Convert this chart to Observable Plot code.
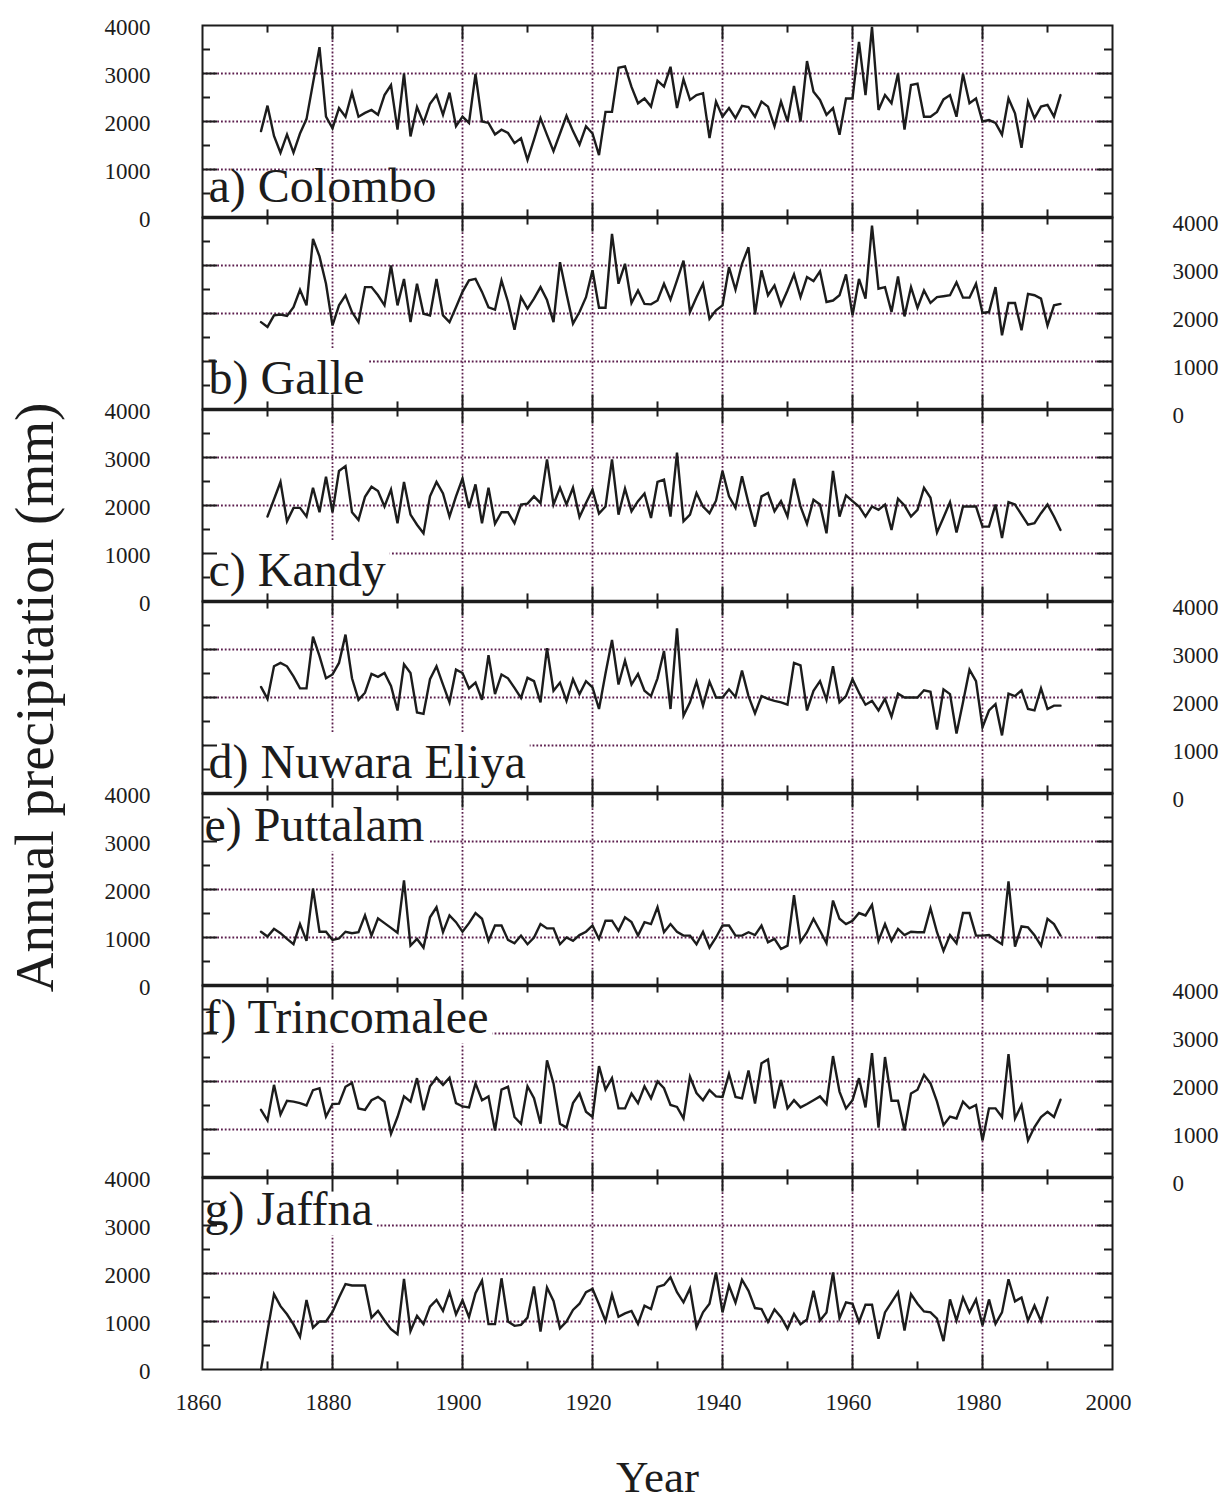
<!DOCTYPE html>
<html>
<head>
<meta charset="utf-8">
<script src="https://cdn.jsdelivr.net/npm/d3@7"></script>
<script src="https://cdn.jsdelivr.net/npm/@observablehq/plot@0.6"></script>
<style>
  html, body { margin: 0; padding: 0; background: #ffffff; }
  #chart svg { display: block; }
</style>
</head>
<body>
<div id="chart"></div>
<script>
// Annual precipitation (mm) at seven Sri Lankan stations, one panel per station.
const stations = ["a) Colombo", "b) Galle", "c) Kandy", "d) Nuwara Eliya", "e) Puttalam", "f) Trincomalee", "g) Jaffna"];
const startYears = [1869, 1869, 1870, 1869, 1869, 1869, 1869];

const colombo = [1800,
  2330, 1700, 1350, 1730, 1350, 1750, 2050, 2800, 3550, 2100,
  1860, 2280, 2100, 2600, 2100, 2180, 2240, 2140, 2550, 2760,
  1830, 3000, 1690, 2300, 1970, 2370, 2550, 2140, 2600, 1900,
  2100, 1970, 2990, 2000, 1970, 1730, 1830, 1760, 1550, 1650,
  1200, 1620, 2070, 1720, 1380, 1750, 2120, 1800, 1520, 1900,
  1750, 1300, 2200, 2200, 3120, 3150, 2720, 2380, 2480, 2310,
  2850, 2725, 3140, 2280, 2880, 2450, 2550, 2590, 1655, 2415,
  2100, 2280, 2070, 2325, 2300, 2100, 2415, 2310, 1900, 2415,
  2000, 2740, 2000, 3260, 2620, 2450, 2140, 2280, 1725, 2480,
  2480, 3660, 2550, 3970, 2240, 2550, 2380, 3000, 1830, 2760,
  2790, 2100, 2100, 2200, 2460, 2550, 2100, 2990, 2380, 2480,
  2000, 2030, 1970, 1725, 2480, 2170, 1450, 2415, 2070, 2310,
  2345, 2100, 2550];

const galle = [1820,
  1720, 1960, 1980, 1950, 2130, 2495, 2170, 3555, 3190, 2620,
  1750, 2170, 2380, 2030, 1820, 2550, 2550, 2380, 2170, 3000,
  2170, 2720, 1820, 2620, 1995, 1960, 2720, 1960, 1820, 2130,
  2450, 2690, 2720, 2450, 2130, 2080, 2690, 2240, 1660, 2340,
  2100, 2310, 2550, 2280, 1820, 3070, 2410, 1790, 2030, 2340,
  2900, 2120, 2120, 3660, 2620, 3035, 2220, 2480, 2200, 2190,
  2270, 2620, 2290, 2690, 3100, 2030, 2340, 2620, 1890, 2065,
  2170, 2965, 2495, 3035, 3380, 1980, 2900, 2380, 2585, 2170,
  2480, 2815, 2340, 2760, 2675, 2880, 2240, 2270, 2380, 2815,
  1960, 2720, 2310, 3830, 2515, 2550, 2030, 2770, 1940, 2550,
  2120, 2480, 2220, 2340, 2360, 2380, 2650, 2330, 2330, 2620,
  2010, 2030, 2550, 1545, 2220, 2220, 1650, 2410, 2380, 2310,
  1750, 2170, 2200];

const kandy = [
  1770, 2130, 2490, 1670, 1950, 1950, 1770, 2370, 1860, 2600,
  1860, 2720, 2820, 1860, 1700, 2180, 2390, 2300, 1980, 2330,
  1630, 2490, 1810, 1600, 1420, 2190, 2490, 2250, 1770, 2190,
  2560, 1950, 2440, 1630, 2370, 1620, 1860, 1860, 1630, 2020,
  2040, 2190, 2050, 2960, 2020, 2370, 2020, 2370, 1760, 2050,
  2330, 1830, 1980, 2960, 1810, 2350, 1880, 2090, 2250, 1740,
  2490, 2540, 1770, 3100, 1670, 1810, 2260, 1980, 1840, 2100,
  2720, 2190, 1950, 2610, 2050, 1560, 2190, 2260, 1880, 2090,
  1770, 2560, 1980, 1620, 2120, 2020, 1420, 2720, 1770, 2210,
  2090, 1980, 1770, 1980, 1910, 2020, 1490, 2140, 2000, 1770,
  1910, 2370, 2160, 1440, 1750, 2070, 1440, 1980, 1980, 1980,
  1560, 1560, 2020, 1320, 2070, 2020, 1810, 1600, 1630, 1840,
  2020, 1770, 1490];

const nuwaraEliya = [2220,
  1970, 2650, 2720, 2650, 2440, 2190, 2190, 3270, 2860, 2400,
  2480, 2720, 3310, 2400, 1950, 2100, 2490, 2430, 2510, 2240,
  1730, 2690, 2510, 1690, 1660, 2380, 2650, 2270, 1900, 2580,
  2510, 2190, 2310, 1950, 2880, 2070, 2480, 2400, 2200, 1990,
  2410, 2340, 1900, 3030, 2140, 2310, 1930, 2380, 2070, 2340,
  2210, 1760, 2500, 3200, 2270, 2770, 2270, 2490, 2140, 2030,
  2400, 2970, 1760, 3440, 1620, 1900, 2330, 1830, 2330, 2000,
  2000, 2170, 2010, 2560, 2030, 1670, 2030, 1970, 1930, 1900,
  1850, 2720, 2670, 1730, 2140, 2340, 1950, 2650, 1900, 2030,
  2380, 2100, 1850, 1930, 1730, 1970, 1600, 2080, 2000, 2000,
  2000, 2150, 2120, 1330, 2170, 2070, 1250, 1900, 2580, 2340,
  1380, 1730, 1860, 1210, 2080, 2030, 2150, 1760, 1730, 2190,
  1760, 1830, 1830];

const puttalam = [1120,
  1020, 1180, 1090, 970, 860, 1280, 930, 2020, 1120, 1120,
  950, 980, 1120, 1090, 1110, 1460, 1040, 1400, 1300, 1200,
  1100, 2190, 830, 970, 790, 1420, 1630, 1110, 1460, 1320,
  1120, 1300, 1510, 1390, 930, 1250, 1250, 950, 880, 1040,
  860, 1000, 1280, 1190, 1190, 860, 1000, 930, 1050, 1120,
  1250, 970, 1350, 1350, 1140, 1420, 1320, 1040, 1320, 1280,
  1630, 1110, 1280, 1120, 1040, 1040, 860, 1120, 790, 1000,
  1250, 1250, 1040, 1040, 1110, 1050, 1250, 900, 970, 760,
  830, 1880, 910, 1110, 1390, 1140, 880, 1770, 1390, 1280,
  1350, 1510, 1460, 1680, 930, 1280, 930, 1180, 1050, 1120,
  1110, 1110, 1610, 1110, 720, 1050, 880, 1510, 1510, 1040,
  1040, 1050, 950, 860, 2170, 810, 1230, 1210, 1050, 830,
  1390, 1280, 1040];

const trincomalee = [1410,
  1190, 1930, 1310, 1600, 1580, 1550, 1500, 1820, 1860, 1270,
  1530, 1540, 1890, 1970, 1440, 1410, 1610, 1680, 1580, 910,
  1260, 1690, 1580, 2070, 1400, 1900, 2080, 1930, 2080, 1550,
  1480, 1460, 1960, 1610, 1690, 980, 1830, 1890, 1260, 1120,
  1900, 1650, 1120, 2440, 1960, 1120, 1040, 1550, 1750, 1370,
  1260, 2320, 1830, 2070, 1440, 1440, 1750, 1550, 1900, 1650,
  2000, 1860, 1510, 1470, 1230, 2100, 1760, 1610, 1820, 1690,
  1680, 2160, 1680, 1650, 2230, 1540, 2380, 2460, 1440, 2030,
  1440, 1610, 1460, 1530, 1610, 1690, 1530, 2530, 1790, 1440,
  1610, 2070, 1460, 2590, 1040, 2510, 1600, 1600, 980, 1750,
  1830, 2140, 1960, 1580, 1090, 1270, 1230, 1580, 1440, 1510,
  770, 1440, 1440, 1260, 2570, 1230, 1510, 770, 1050, 1260,
  1370, 1260, 1620];

const jaffna = [0,
  800, 1570, 1320, 1150, 940, 680, 1450, 870, 1000, 1000,
  1200, 1500, 1780, 1750, 1750, 1750, 1080, 1220, 1020, 840,
  735, 1890, 800, 1120, 945, 1310, 1450, 1220, 1610, 1150,
  1440, 1090, 1590, 1850, 945, 945, 1900, 1000, 910, 930,
  1080, 1730, 790, 1710, 1430, 860, 1000, 1240, 1370, 1610,
  1680, 1360, 1010, 1560, 1100, 1170, 1220, 950, 1330, 1260,
  1720, 1760, 1920, 1610, 1400, 1690, 880, 1190, 1370, 2020,
  1190, 1750, 1390, 1870, 1640, 1280, 1260, 990, 1250, 1090,
  850, 1160, 940, 1040, 1640, 1020, 1190, 2020, 1070, 1400,
  1370, 990, 1350, 1350, 640, 1190, 1400, 1610, 810, 1570,
  1370, 1210, 1190, 1060, 590, 1460, 1020, 1500, 1190, 1460,
  920, 1460, 950, 1190, 1880, 1420, 1500, 1020, 1330, 1010,
  1500];

const series = [colombo, galle, kandy, nuwaraEliya, puttalam, trincomalee, jaffna];

// Axis and grid values
const yGridValues = [1000, 2000, 3000];
const yMinorTicks = [500, 1500, 2500, 3500];
const yTickLabels = [0, 1000, 2000, 3000, 4000];
const xGridValues = d3.range(1880, 1981, 20);
const xMinorTicks = d3.range(1870, 1991, 20);
const xTickLabels = d3.range(1860, 2001, 20);

// Layout
const W = 1219, H = 1502;
const M = {top: 23, right: 107, bottom: 132, left: 202};
const panelH = (H - M.top - M.bottom) / stations.length;
const innerW = W - M.left - M.right;
const majorLen = 15, minorLen = 8;

const ink = "#1c1c1c";
const gridColor = "#5c1f4e";
const serif = "'Liberation Serif', 'Times New Roman', Times, serif";

const rows = stations.flatMap((s, i) =>
  series[i].map((v, j) => ({station: s, year: startYears[i] + j, value: v})));

const cross = (ss, vs) => ss.flatMap(s => vs.map(v => ({station: s, v})));
const leftAxis = stations.filter((_, i) => i % 2 === 0);
const rightAxis = stations.filter((_, i) => i % 2 === 1);
const lowLabels = stations.slice(0, 4).map(s => ({station: s}));
const highLabels = stations.slice(4).map(s => ({station: s}));
const last = stations[stations.length - 1];

const gridStyle = {stroke: gridColor, strokeWidth: 1.8, strokeDasharray: "1.8,2"};
const tickStyle = {stroke: ink, strokeWidth: 2};

const chart = Plot.plot({
  width: W,
  height: H,
  marginTop: M.top,
  marginRight: M.right,
  marginBottom: M.bottom,
  marginLeft: M.left,
  style: {background: "#ffffff", fontFamily: serif, color: ink},
  x: {domain: [1860, 2000], axis: null},
  y: {domain: [0, 4000], axis: null},
  fy: {domain: stations, padding: 0, axis: null},
  marks: [
    // dotted grid
    Plot.ruleY(cross(stations, yGridValues), {fy: "station", y: "v", ...gridStyle}),
    Plot.ruleX(cross(stations, xGridValues), {fy: "station", x: "v", ...gridStyle}),

    // station names
    Plot.text(lowLabels, {fy: "station", text: "station", frameAnchor: "bottom-left",
      textAnchor: "start", lineAnchor: "bottom", dx: 6, dy: -16, fontSize: 48, fill: ink}),
    Plot.text(highLabels, {fy: "station", text: "station", frameAnchor: "top-left",
      textAnchor: "start", lineAnchor: "bottom", dx: 2, dy: 47, fontSize: 48, fill: ink}),

    // precipitation series
    Plot.line(rows, {fy: "station", x: "year", y: "value", stroke: ink, strokeWidth: 2.4,
      strokeLinejoin: "miter", strokeMiterlimit: 4}),

    // panel frames and heavier separators
    Plot.frame({stroke: ink, strokeWidth: 2}),
    Plot.ruleY(stations.slice(1).map(s => ({station: s, v: 4000})), {fy: "station", y: "v", stroke: ink, strokeWidth: 3.5}),

    // inward ticks, top and bottom
    Plot.tickX(cross(stations, xGridValues), {fy: "station", x: "v", insetBottom: panelH - majorLen, ...tickStyle}),
    Plot.tickX(cross(stations, xGridValues), {fy: "station", x: "v", insetTop: panelH - majorLen, ...tickStyle}),
    Plot.tickX(cross(stations, xMinorTicks), {fy: "station", x: "v", insetBottom: panelH - minorLen, ...tickStyle}),
    Plot.tickX(cross(stations, xMinorTicks), {fy: "station", x: "v", insetTop: panelH - minorLen, ...tickStyle}),
    // inward ticks, left and right
    Plot.tickY(cross(stations, yGridValues), {fy: "station", y: "v", insetRight: innerW - majorLen, ...tickStyle}),
    Plot.tickY(cross(stations, yGridValues), {fy: "station", y: "v", insetLeft: innerW - majorLen, ...tickStyle}),
    Plot.tickY(cross(stations, yMinorTicks), {fy: "station", y: "v", insetRight: innerW - minorLen, ...tickStyle}),
    Plot.tickY(cross(stations, yMinorTicks), {fy: "station", y: "v", insetLeft: innerW - minorLen, ...tickStyle}),

    // y tick labels alternate between left and right
    Plot.text(cross(leftAxis, yTickLabels), {fy: "station", y: "v", text: d => String(d.v),
      frameAnchor: "left", textAnchor: "end", dx: -52, dy: 2, fontSize: 23, fill: ink}),
    Plot.text(cross(rightAxis, yTickLabels), {fy: "station", y: "v", text: d => String(d.v),
      frameAnchor: "right", textAnchor: "start", dx: 60, dy: 6, fontSize: 23, fill: ink}),

    // x tick labels under the last panel
    Plot.text(xTickLabels.map(v => ({station: last, v})), {fy: "station", x: "v", text: d => String(d.v),
      frameAnchor: "bottom", lineAnchor: "middle", dx: -4, dy: 33, fontSize: 23, fill: ink}),

    // axis titles
    Plot.text([{station: last, t: "Year"}], {fy: "station", text: "t", frameAnchor: "bottom",
      textAnchor: "middle", lineAnchor: "middle", dy: 108, fontSize: 45, fill: ink}),
    Plot.text([{station: stations[3], t: "Annual precipitation (mm)"}], {fy: "station", text: "t",
      frameAnchor: "left", textAnchor: "middle", rotate: -90, lineAnchor: "middle", dx: -167, fontSize: 55, fill: ink})
  ]
});

document.getElementById("chart").append(chart);

// White boxes behind station names (except the first) hide the grid under them.
const masked = new Set(stations.slice(1));
chart.querySelectorAll("text").forEach(t => {
  if (!masked.has(t.textContent)) return;
  const b = t.getBBox();
  const r = document.createElementNS("http://www.w3.org/2000/svg", "rect");
  r.setAttribute("x", b.x - 3);
  r.setAttribute("y", b.y - 1);
  r.setAttribute("width", b.width + 7);
  r.setAttribute("height", b.height + 1);
  r.setAttribute("fill", "#ffffff");
  if (t.hasAttribute("transform")) r.setAttribute("transform", t.getAttribute("transform"));
  t.parentNode.insertBefore(r, t);
});
</script>
</body>
</html>
